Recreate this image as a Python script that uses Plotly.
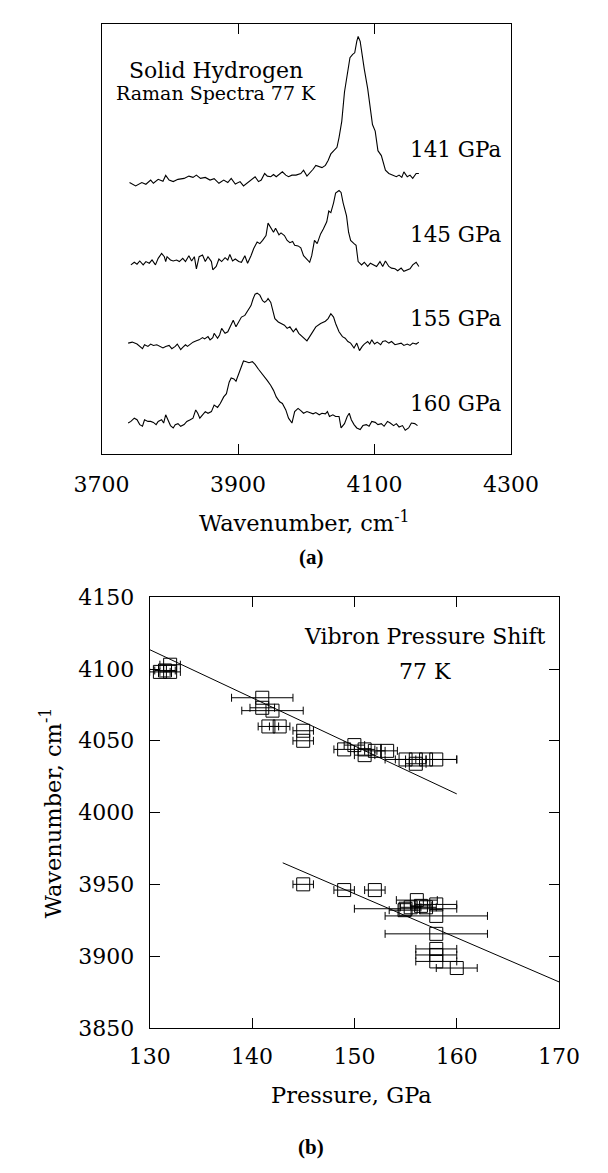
import plotly.graph_objects as go

# ---------------- Panel (a): Raman spectra (arbitrary intensity units) ----------------
wn_141 = [3741, 3750, 3759, 3765, 3772, 3776, 3783, 3790, 3794, 3799, 3805, 3812, 3821, 3828,
          3834, 3839, 3845, 3852, 3859, 3865, 3872, 3879, 3885, 3890, 3896, 3903, 3908, 3914,
          3921, 3925, 3930, 3934, 3939, 3943, 3948, 3952, 3956, 3961, 3965, 3970, 3974, 3979,
          3985, 3992, 3996, 4001, 4005, 4010, 4014, 4019, 4023, 4028, 4032, 4036, 4041, 4045,
          4048, 4052, 4056, 4061, 4064, 4068, 4071, 4074, 4076, 4079, 4082, 4085, 4090, 4094,
          4097, 4101, 4105, 4110, 4113, 4116, 4121, 4128, 4132, 4136, 4140, 4143, 4148, 4152,
          4156, 4161, 4165]
int_141 = [0.7, -2.7, 0.7, -1, 3.3, 0, 4, 2, 8, 3.3, 1.7, 4, 5, 7.3,
           6, 8.3, 5, 6, 3.3, 4.7, 0, 3.3, 0.7, 5, -0.7, 1.7, -2.7, 0.7,
           4, 6.7, 1.7, 3.3, 10, 7.3, 6.7, 9, 6.7, 9.3, 11.7, 8.3, 6.7, 8.3,
           8.3, 10, 13.3, 7.3, 10, 14.3, 18.3, 16.7, 16, 18.3, 23.3, 30, 34, 36.7,
           46.7, 63.3, 93.3, 113.3, 128.3, 131.7, 133.3, 145, 150, 145, 130, 116.7, 96.7, 73.3,
           60, 53.3, 33.3, 28.3, 20, 13.3, 10, 8.3, 6.7, 8.3, 6, 11.7, 6.7, 8.3,
           5, 10, 10]

wn_145 = [3743, 3748, 3752, 3756, 3761, 3765, 3770, 3774, 3779, 3783, 3788, 3792, 3794, 3796,
          3801, 3805, 3810, 3814, 3819, 3823, 3828, 3832, 3836, 3839, 3843, 3848, 3852, 3856,
          3861, 3863, 3868, 3872, 3876, 3881, 3885, 3888, 3892, 3896, 3901, 3905, 3910, 3914,
          3919, 3923, 3928, 3932, 3936, 3941, 3944, 3949, 3952, 3955, 3960, 3963, 3968, 3972,
          3976, 3980, 3983, 3988, 3992, 3996, 4001, 4005, 4008, 4012, 4016, 4021, 4025, 4030,
          4033, 4036, 4040, 4043, 4048, 4051, 4054, 4059, 4062, 4065, 4070, 4073, 4076, 4081,
          4085, 4090, 4094, 4099, 4103, 4108, 4112, 4116, 4121, 4125, 4130, 4134, 4139, 4143,
          4148, 4152, 4156, 4161, 4165]
int_145 = [-1.7, 1, -1, 2.3, -1.7, 1.7, 0, 3.3, -1.7, 5, 10, 6.7, 1.7, 6.7,
           3.3, 2.3, 3.3, 1.7, 5, 1.7, 7.7, 2.3, 6.7, -5.7, 6.7, 8.3, 1.7, 6.7,
           1.7, -6.7, -3.3, 4.3, 1.7, 5.7, 3.3, 9, 2.3, 4.3, 1.7, 1, 7.7, 0,
           7.7, 15, 21.7, 20, 23.3, 28.3, 41, 35, 31.7, 35.7, 29, 31, 28.3, 23.3,
           21, 22.3, 18.3, 17.7, 15.7, 7.7, 4.3, 1, 7.7, 23.3, 20, 30, 35, 42.3,
           53.3, 51.7, 61.7, 71.7, 74.3, 72.3, 61.7, 48.3, 31.7, 23.3, 20, 18.3, 1.7, -1.7,
           1, -3.3, 0, -2.3, -3.3, 1.7, -3.3, 2.3, -3.3, -5, -5.7, -7.7, -5, -8.3,
           -6.7, -5.7, -1.7, 1, -3.3]

wn_155 = [3739, 3745, 3752, 3756, 3760, 3763, 3768, 3772, 3776, 3781, 3785, 3790, 3794, 3799,
          3803, 3808, 3811, 3816, 3819, 3823, 3826, 3830, 3834, 3839, 3843, 3848, 3851, 3856,
          3859, 3863, 3865, 3870, 3873, 3876, 3881, 3885, 3890, 3893, 3897, 3901, 3905, 3910,
          3914, 3919, 3922, 3925, 3928, 3932, 3936, 3939, 3942, 3944, 3948, 3951, 3954, 3959,
          3963, 3968, 3972, 3976, 3981, 3985, 3989, 3994, 4001, 4005, 4010, 4014, 4021, 4028,
          4032, 4036, 4040, 4043, 4048, 4053, 4057, 4061, 4065, 4070, 4074, 4078, 4082, 4085,
          4090, 4093, 4096, 4100, 4104, 4109, 4112, 4116, 4121, 4125, 4130, 4134, 4139, 4143,
          4148, 4152, 4156, 4161, 4165]
int_155 = [1.7, 2.7, 0.7, -1.7, -4, 0, -1.7, 0.7, -0.7, 0, -1.7, -3.3, -1.7, -0.7,
           -4, -1.7, 0.7, -5, -2.7, 0, -1.7, 0.7, 2.7, 4, 5, 7.3, 6, 8.3,
           5, 7.3, 11.7, 6.7, 10, 16.7, 11.7, 13.3, 21.7, 25, 18.3, 23.3, 28.3, 30,
           35, 40, 46.7, 51.7, 52.7, 50.7, 45, 43.3, 45, 47.3, 43.3, 35, 26.7, 23.3,
           21.7, 20, 16.7, 18.3, 13.3, 16.7, 11.7, 8.3, 4, 8.3, 13.3, 18.3, 21.7, 24,
           26.7, 31.7, 28.3, 21.7, 13.3, 8.3, 6.7, 3.3, 1.7, -3.3, 1.7, -6, -1.7, 0.7,
           3.3, 0.7, 5, 0.7, 2.7, 0, 3.3, 4, 1.7, 3.3, 0, 0.7, 1.7, -0.7,
           0.7, -0.7, 1.7, 0.7, 2.7]

wn_160 = [3739, 3743, 3748, 3752, 3756, 3760, 3763, 3768, 3772, 3776, 3780, 3783, 3788, 3791,
          3794, 3798, 3801, 3805, 3808, 3812, 3816, 3821, 3825, 3830, 3834, 3838, 3841, 3844,
          3848, 3852, 3856, 3861, 3865, 3870, 3874, 3879, 3883, 3887, 3890, 3894, 3897, 3901,
          3904, 3908, 3912, 3916, 3921, 3925, 3930, 3934, 3939, 3943, 3948, 3952, 3956, 3961,
          3965, 3970, 3974, 3979, 3983, 3988, 3992, 3996, 4001, 4005, 4010, 4014, 4019, 4023,
          4028, 4031, 4034, 4039, 4043, 4048, 4051, 4056, 4060, 4063, 4066, 4070, 4074, 4079,
          4083, 4088, 4092, 4096, 4101, 4105, 4110, 4114, 4119, 4123, 4128, 4132, 4136, 4141,
          4145, 4150, 4154, 4159, 4163]
int_160 = [-1.7, 0, 3.3, 1.7, -3.3, -5, 1.7, 0, 0, -1, -3.3, 0, 1.7, -1.7,
           6.7, 0, -4.3, -6.7, -3.3, -2.3, -5, -3.3, 0, 1.7, 3.3, 11.7, 8.3, 3.3,
           6.7, 10, 8.3, 10, 16.7, 14.3, 18.3, 25, 28.3, 40, 44.3, 43.3, 41, 48.3,
           55, 61.7, 61, 60, 61, 58.3, 53.3, 50, 45, 41.7, 36.7, 31.7, 25, 20,
           18.3, 11.7, 3.3, -1.7, 10, 13.3, 11, 8.3, 10, 9, 7.7, 9, 6.7, 8.3,
           7.7, 10, 5, 6.7, 5, 5, -6.7, -2.3, 5, 8.3, 1.7, -3.3, -6.7, -8.3,
           -4.3, -3.3, -5, 0, -1, -3.3, -2.3, -5, 0, -1.7, -4.3, -2.3, -5.7, -4.3,
           -9, -6.7, -1.7, -2.3, -4.3]

spectra = [("141 GPa", wn_141, int_141, 277.0),
           ("145 GPa", wn_145, int_145, 195.3),
           ("155 GPa", wn_155, int_155, 112.0),
           ("160 GPa", wn_160, int_160, 33.7)]
label_y = [312, 225, 139, 52]
label_wn = 4219

# ---------------- Panel (b): vibron pressure shift ----------------
p_up = [131, 131.5, 132, 132, 141, 141, 142, 141.6, 142.7, 145, 145, 149, 150, 151, 151,
        152, 153.2, 155, 156, 156, 158, 157]
w_up = [4098, 4099, 4103, 4098, 4080, 4073, 4071, 4060, 4060, 4057, 4050, 4044, 4047, 4044,
        4040, 4043, 4043, 4037, 4037, 4034, 4037, 4037]
e_up = [1, 1, 1, 1, 3, 1.2, 3, 1, 1, 1, 1, 1, 1, 1, 1, 1, 1, 2, 1, 1, 2, 3]

p_lo = [145, 149, 152, 154.9, 155, 155.5, 156.1, 156.5, 157, 158, 158, 158, 158, 158, 158, 160]
w_lo = [3950, 3946, 3946, 3932, 3933, 3934, 3939, 3935, 3934, 3936, 3928, 3915.5, 3905,
        3900.8, 3896.3, 3891.7]
e_lo = [1, 1, 1, 1.5, 5, 1, 2, 1, 1, 2, 5, 5, 2, 2, 2, 2]

fit_up_p = [130, 160]
fit_up_w = [4113.5, 4013]
fit_lo_p = [143, 170]
fit_lo_w = [3965, 3882]

FONT = "DejaVu Serif"
W, H = 608, 1173

fig = go.Figure()

for name, wn, inten, off in spectra:
    fig.add_trace(go.Scatter(x=wn, y=[v + off for v in inten], mode="lines",
                             line=dict(color="black", width=1.1),
                             xaxis="x", yaxis="y", showlegend=False, name=name))

for pp, ww, ee in [(p_up, w_up, e_up), (p_lo, w_lo, e_lo)]:
    fig.add_trace(go.Scatter(x=pp, y=ww, mode="markers",
                             marker=dict(symbol="square-open", size=13, color="black",
                                         line=dict(width=1, color="black")),
                             error_x=dict(type="data", array=ee, visible=True,
                                          color="black", thickness=1, width=4),
                             xaxis="x2", yaxis="y2", showlegend=False))

for fp, fw in [(fit_up_p, fit_up_w), (fit_lo_p, fit_lo_w)]:
    fig.add_trace(go.Scatter(x=fp, y=fw, mode="lines", line=dict(color="black", width=1),
                             xaxis="x2", yaxis="y2", showlegend=False))

def px2paper_x(px):
    return px / W

def px2paper_y(py):
    return 1 - py / H

def axis_common(standoff):
    return dict(showline=True, linecolor="black", linewidth=1, mirror="ticks",
                ticks="inside", ticklen=10, tickcolor="black", tickwidth=1,
                showgrid=False, zeroline=False, ticklabelstandoff=standoff,
                tickfont=dict(family=FONT, size=22, color="black"))

fig.update_layout(
    width=W, height=H, margin=dict(l=0, r=0, t=0, b=0),
    paper_bgcolor="white", plot_bgcolor="white",
    xaxis=dict(domain=[px2paper_x(81), px2paper_x(532)], range=[3700, 4300],
               tickvals=[3700, 3900, 4100, 4300], anchor="y", **axis_common(10)),
    yaxis=dict(domain=[px2paper_y(452), px2paper_y(12)], range=[0, 440],
               showticklabels=False, showline=True, linecolor="black", linewidth=1,
               mirror=True, ticks="", showgrid=False, zeroline=False, anchor="x"),
    xaxis2=dict(domain=[px2paper_x(134), px2paper_x(585)], range=[130, 170],
                tickvals=[130, 140, 150, 160, 170], anchor="y2", **axis_common(9)),
    yaxis2=dict(domain=[px2paper_y(1038), px2paper_y(598)], range=[3850, 4150],
                tickvals=[3850, 3900, 3950, 4000, 4050, 4100, 4150], anchor="x2",
                **axis_common(10)),
)

C = dict(xanchor="center", yanchor="middle", showarrow=False)
ann = []
for (name, _, _, _), ly in zip(spectra, label_y):
    ann.append(dict(x=label_wn, y=ly, xref="x", yref="y", text=name,
                    font=dict(family=FONT, size=21.5, color="black"), **C))
ann.append(dict(x=3867, y=392, xref="x", yref="y", text="Solid Hydrogen",
                font=dict(family=FONT, size=22, color="black"), **C))
ann.append(dict(x=3867, y=369, xref="x", yref="y", text="Raman Spectra 77 K",
                font=dict(family=FONT, size=19, color="black"), **C))
ann.append(dict(x=156.85, y=4123, xref="x2", yref="y2", text="Vibron Pressure Shift",
                font=dict(family=FONT, size=22, color="black"), **C))
ann.append(dict(x=156.9, y=4098.6, xref="x2", yref="y2", text="77 K",
                font=dict(family=FONT, size=22, color="black"), **C))
ann.append(dict(x=px2paper_x(304), y=px2paper_y(521), xref="paper", yref="paper",
                text="Wavenumber, cm<sup>-1</sup>",
                font=dict(family=FONT, size=22.5, color="black"), **C))
ann.append(dict(x=px2paper_x(312), y=px2paper_y(557), xref="paper", yref="paper",
                text="<b>(a)</b>",
                font=dict(family="Liberation Serif", size=21, color="black"), **C))
ann.append(dict(x=px2paper_x(356), y=px2paper_y(1107), xref="paper", yref="paper",
                text="Pressure, GPa",
                font=dict(family=FONT, size=22.5, color="black"), **C))
ann.append(dict(x=px2paper_x(25), y=px2paper_y(818), xref="paper", yref="paper",
                text="Wavenumber, cm<sup>-1</sup>", textangle=-90,
                font=dict(family=FONT, size=22.5, color="black"), **C))
ann.append(dict(x=px2paper_x(312), y=px2paper_y(1160), xref="paper", yref="paper",
                text="<b>(b)</b>",
                font=dict(family="Liberation Serif", size=21, color="black"), **C))
fig.update_layout(annotations=ann)

fig.write_html("out.html")
